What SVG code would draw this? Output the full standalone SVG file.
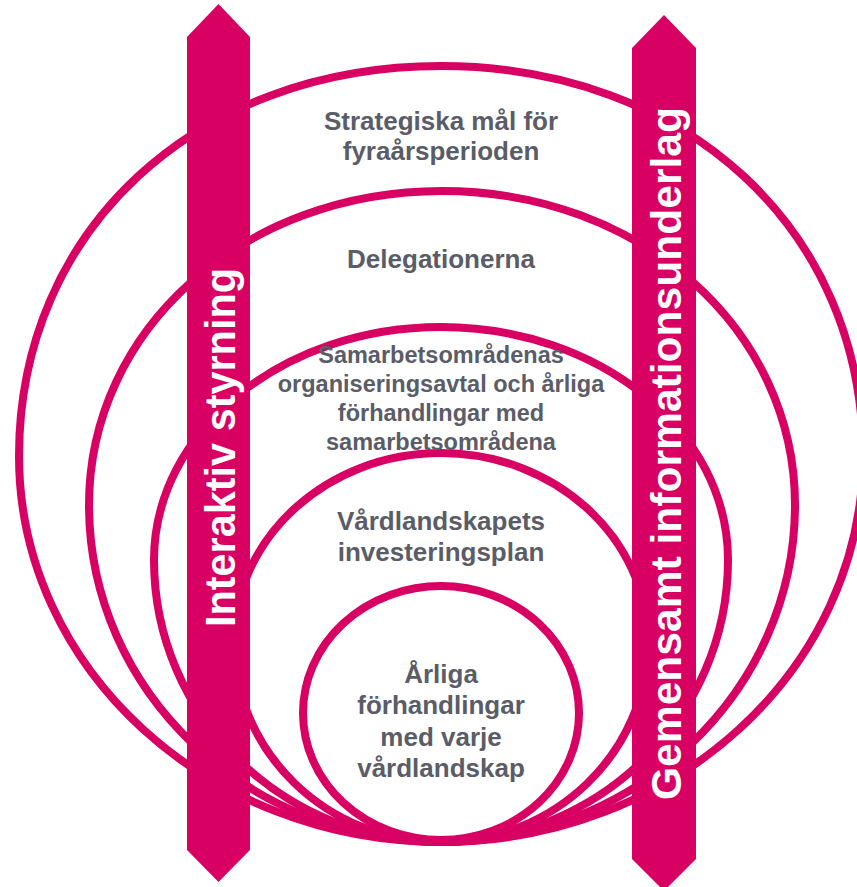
<svg xmlns="http://www.w3.org/2000/svg" width="857" height="887" viewBox="0 0 857 887">
<style>
.ring{fill:none;stroke:#D80062;stroke-width:8}
.bar{fill:#D80062}
.lbl{font-family:"Liberation Sans",Arial,sans-serif;font-weight:bold;fill:#5A5C68;text-anchor:middle}
.bt{font-family:"Liberation Sans",Arial,sans-serif;font-weight:bold;fill:#FFFFFF;text-anchor:middle;font-size:43px}
</style>
<rect width="857" height="887" fill="#FFFFFF"/>
<g id="rings">
<g id="ring1"><path class="ring" d="M19,456 C19,230 196,66 441,66 C686,66 863,230 863,456 C863,669 674,842 441,842 C208,842 19,669 19,456 Z"/></g>
<g id="ring2"><path class="ring" d="M89,505 C89,329 244,191 442,191 C640,191 795,329 795,505 C795,691 637,842 442,842 C247,842 89,691 89,505 Z"/></g>
<g id="ring3"><path class="ring" d="M154,560 C154,431 282.5,327 441,327 C599.5,327 728,431 728,560 C728,716 599.5,842 441,842 C282.5,842 154,716 154,560 Z"/></g>
<g id="ring4"><path class="ring" d="M234,642 C234,538 326.7,453 441,453 C555.3,453 648,538 648,642 C648,752 555.3,842 441,842 C326.7,842 234,752 234,642 Z"/></g>
<g id="ring5"><ellipse class="ring" cx="441" cy="713" rx="138" ry="127"/></g>
</g>
<g id="bar-left">
<polygon class="bar" points="187,37 218.5,4 250,37 250,850 218.5,882 187,850"/>
<text class="bt" transform="translate(235,447.5) rotate(-90)" textLength="359" lengthAdjust="spacingAndGlyphs">Interaktiv styrning</text>
</g>
<g id="bar-right">
<polygon class="bar" points="632,48 664,15 696,48 696,859 664,891 632,859"/>
<text class="bt" transform="translate(681,453.5) rotate(-90)" textLength="693" lengthAdjust="spacingAndGlyphs">Gemensamt informationsunderlag</text>
</g>
<g id="label1">
<text class="lbl" font-size="26" x="441" y="130">Strategiska mål för</text>
<text class="lbl" font-size="26" x="441" y="160">fyraårsperioden</text>
</g>
<g id="label2">
<text class="lbl" font-size="26" x="441" y="268">Delegationerna</text>
</g>
<g id="label3">
<text class="lbl" font-size="23.5" x="441" y="363">Samarbetsområdenas</text>
<text class="lbl" font-size="23.5" x="441" y="392">organiseringsavtal och årliga</text>
<text class="lbl" font-size="23.5" x="441" y="421">förhandlingar med</text>
<text class="lbl" font-size="23.5" x="441" y="450">samarbetsområdena</text>
</g>
<g id="label4">
<text class="lbl" font-size="26" x="441" y="530">Vårdlandskapets</text>
<text class="lbl" font-size="26" x="441" y="561">investeringsplan</text>
</g>
<g id="label5">
<text class="lbl" font-size="26" x="441" y="683">Årliga</text>
<text class="lbl" font-size="26" x="441" y="714">förhandlingar</text>
<text class="lbl" font-size="26" x="441" y="746">med varje</text>
<text class="lbl" font-size="26" x="441" y="777">vårdlandskap</text>
</g>
</svg>
